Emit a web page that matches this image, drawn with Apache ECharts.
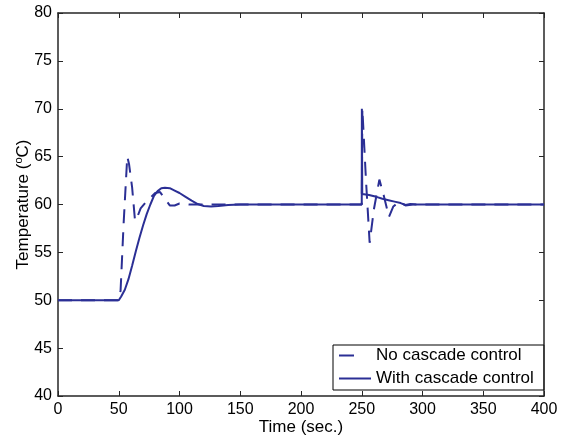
<!DOCTYPE html>
<html>
<head>
<meta charset="utf-8">
<script src="https://cdn.jsdelivr.net/npm/echarts@6/dist/echarts.min.js"></script>
<style>html,body{margin:0;padding:0;background:#fff;}#c{width:563px;height:443px;}</style>
</head>
<body>
<div id="c"></div>
<script>
var xTicks = [0, 50, 100, 150, 200, 250, 300, 350, 400];
var yTicks = [40, 45, 50, 55, 60, 65, 70, 75, 80];

var seriesNames = ['No cascade control', 'With cascade control'];

var noCascadeTime = [0, 50, 51.5, 54, 57, 58.5, 61, 63.4, 65, 68, 72, 76, 80, 84, 88, 92, 96, 100, 108, 250, 250.5, 253.5, 256.5, 260, 264.5, 268, 272.4, 276, 281, 286, 292, 400];
var noCascadeTemp = [50, 50, 51, 58, 65, 64.2, 61.8, 58.3, 58.6, 59.6, 60.2, 60.7, 61.2, 61.3, 60.6, 59.9, 59.9, 60.1, 60, 60, 70, 62.5, 56, 59.5, 62.6, 61, 58.7, 59.8, 60.3, 59.9, 60, 60];

var cascadeTime = [0, 50, 52, 55, 58, 61, 64, 67, 70, 73, 76, 79, 82, 85, 88, 92, 96, 100, 105, 110, 115, 120, 126, 132, 140, 150, 160, 250, 250.1, 250.4, 256, 262, 267, 272, 277, 282, 286, 290, 295, 400];
var cascadeTemp = [50, 50, 50.4, 51.1, 52.2, 53.6, 55.1, 56.5, 57.8, 59, 60, 60.9, 61.4, 61.7, 61.75, 61.7, 61.45, 61.2, 60.8, 60.4, 60.05, 59.85, 59.8, 59.85, 59.95, 60, 60, 60, 70, 61.1, 61, 60.8, 60.6, 60.45, 60.3, 60.15, 59.95, 60.05, 60, 60];

function zip(a, b) { return a.map(function (v, i) { return [v, b[i]]; }); }

var lineColor = '#2B2F95';
var axisColor = '#262626';
var font = 'Liberation Sans, Arial, Helvetica, sans-serif';

var chart = echarts.init(document.getElementById('c'), null, {renderer: 'canvas'});
var axisCommon = {
  axisLine: {show: true, onZero: false, lineStyle: {color: axisColor, width: 1.5}},
  axisTick: {show: true, inside: true, length: 5, lineStyle: {color: axisColor, width: 1}},
  splitLine: {show: false}
};
var hiddenSymbol = {color: 'rgba(0,0,0,0)', borderWidth: 0, opacity: 0};
chart.setOption({
  animation: false,
  backgroundColor: '#fff',
  grid: {left: 58, right: 19, top: 13, bottom: 47, containLabel: false},
  legend: {
    orient: 'vertical',
    left: 333,
    top: 345,
    padding: [2, 10, 3, 5],
    itemGap: 6,
    itemWidth: 32,
    itemHeight: 17,
    backgroundColor: '#fff',
    borderColor: '#000',
    borderWidth: 1,
    borderRadius: 0,
    textStyle: {fontFamily: font, fontSize: 17, color: '#000'},
    data: [
      {name: seriesNames[0], itemStyle: hiddenSymbol, lineStyle: {type: [15, 40], width: 2, color: lineColor}},
      {name: seriesNames[1], itemStyle: hiddenSymbol, lineStyle: {type: 'solid', width: 2, color: lineColor}}
    ]
  },
  xAxis: [
    Object.assign({
      type: 'value', min: 0, max: 400, interval: 50, position: 'bottom',
      name: 'Time (sec.)', nameLocation: 'middle', nameGap: 23, nameMoveOverlap: false,
      nameTextStyle: {fontFamily: font, fontSize: 17, color: '#000'},
      axisLabel: {fontFamily: font, fontSize: 16, color: '#000', margin: 6,
        formatter: function (v) { return xTicks.indexOf(v) >= 0 ? String(v) : ''; }}
    }, axisCommon),
    Object.assign({
      type: 'value', min: 0, max: 400, interval: 50, position: 'top',
      axisLabel: {show: false}
    }, axisCommon)
  ],
  yAxis: [
    Object.assign({
      type: 'value', min: 40, max: 80, interval: 5, position: 'left',
      name: 'Temperature ({sup|o}C)', nameLocation: 'middle', nameGap: 25, nameMoveOverlap: false,
      nameTextStyle: {fontFamily: font, fontSize: 17, color: '#000', lineHeight: 20,
        rich: {sup: {fontFamily: font, fontSize: 11, color: '#000', verticalAlign: 'top'}}},
      axisLabel: {fontFamily: font, fontSize: 16, color: '#000', margin: 6,
        formatter: function (v) { return yTicks.indexOf(v) >= 0 ? String(v) : ''; }}
    }, axisCommon),
    Object.assign({
      type: 'value', min: 40, max: 80, interval: 5, position: 'right',
      axisLabel: {show: false}
    }, axisCommon)
  ],
  series: [
    {
      name: seriesNames[0], type: 'line', xAxisIndex: 0, yAxisIndex: 0,
      data: zip(noCascadeTime, noCascadeTemp),
      symbol: 'none', smooth: false,
      lineStyle: {color: lineColor, width: 2, type: [14, 9]},
      itemStyle: {color: lineColor}, z: 3
    },
    {
      name: seriesNames[1], type: 'line', xAxisIndex: 0, yAxisIndex: 0,
      data: zip(cascadeTime, cascadeTemp),
      symbol: 'none', smooth: false,
      lineStyle: {color: lineColor, width: 2, type: 'solid'},
      itemStyle: {color: lineColor}, z: 2
    }
  ]
});
</script>
</body>
</html>
